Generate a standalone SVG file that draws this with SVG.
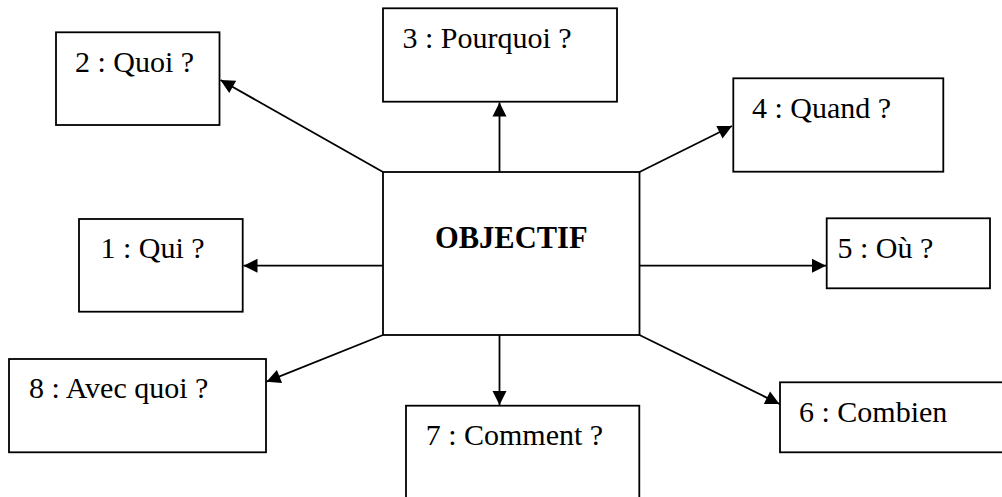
<svg xmlns="http://www.w3.org/2000/svg" width="1002" height="497" viewBox="0 0 1002 497">
<style>
.box{fill:#fff;stroke:#000;stroke-width:1.8}
.lbl{font-family:'Liberation Serif','Times New Roman','DejaVu Serif',serif;font-size:30px;fill:#000}
.ctr{font-family:'Liberation Serif','Times New Roman','DejaVu Serif',serif;font-size:30.5px;font-weight:bold;fill:#000}
.con{stroke:#000;stroke-width:1.8;fill:none;marker-end:url(#ah)}
</style>
<defs>
<marker id="ah" markerUnits="userSpaceOnUse" markerWidth="16" markerHeight="16" viewBox="0 0 16 16" refX="15" refY="8" orient="auto">
<path d="M1,1 L15,8 L1,15 Z" fill="#000"/>
</marker>
</defs>
<rect width="1002" height="497" fill="#fff"/>
<g id="connectors">
<line class="con" x1="383" y1="172" x2="220.5" y2="80"/>
<line class="con" x1="499.5" y1="172" x2="499.5" y2="102.5"/>
<line class="con" x1="639.5" y1="172" x2="732" y2="126"/>
<line class="con" x1="639.5" y1="265.7" x2="826" y2="265.7"/>
<line class="con" x1="383" y1="265.7" x2="243.5" y2="265.7"/>
<line class="con" x1="383" y1="335" x2="266.5" y2="381.7"/>
<line class="con" x1="499.5" y1="335" x2="499.5" y2="405"/>
<line class="con" x1="639.5" y1="335" x2="779.5" y2="404"/>
</g>
<g id="objectif">
<rect class="box" x="383" y="172" width="256.5" height="163"/>
<text class="ctr" x="435" y="248.3" font-family="Liberation Serif, serif">OBJECTIF</text>
</g>
<g id="n2">
<rect class="box" x="56" y="32.3" width="163.5" height="92.7"/>
<text class="lbl" x="75" y="71.7">2 : Quoi ?</text>
</g>
<g id="n3">
<rect class="box" x="383" y="8.3" width="234" height="93.4"/>
<text class="lbl" x="402.5" y="48.3">3 : Pourquoi ?</text>
</g>
<g id="n4">
<rect class="box" x="733.3" y="78.3" width="210" height="93.4"/>
<text class="lbl" x="752" y="118.3">4 : Quand ?</text>
</g>
<g id="n5">
<rect class="box" x="826.7" y="218.3" width="163.3" height="70"/>
<text class="lbl" x="837.5" y="258.3">5 : Où ?</text>
</g>
<g id="n1">
<rect class="box" x="79" y="219" width="163.7" height="92.7"/>
<text class="lbl" x="100.5" y="258.3">1 : Qui ?</text>
</g>
<g id="n8">
<rect class="box" x="9" y="359" width="257" height="93.3"/>
<text class="lbl" x="29" y="398.3">8 : Avec quoi ?</text>
</g>
<g id="n7">
<rect class="box" x="406" y="405.7" width="233.3" height="100"/>
<text class="lbl" x="425.7" y="445">7 : Comment ?</text>
</g>
<g id="n6">
<rect class="box" x="780" y="382.3" width="240" height="70"/>
<text class="lbl" x="799" y="421.7">6 : Combien</text>
</g>
</svg>
